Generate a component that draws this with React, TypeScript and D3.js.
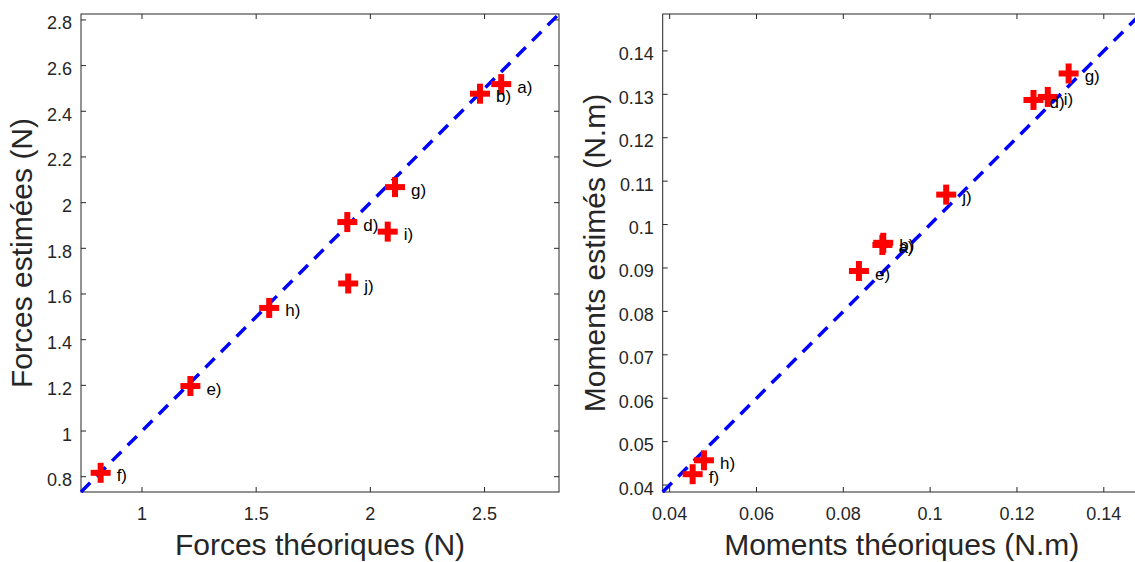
import React from "react";
import * as d3 from "d3";

const pointLabels = ["a)", "b)", "d)", "e)", "f)", "g)", "h)", "i)", "j)"];
const forceTheo = [2.573, 2.48, 1.899, 1.212, 0.819, 2.108, 1.557, 2.076, 1.903];
const forceEst = [2.519, 2.477, 1.915, 1.197, 0.817, 2.068, 1.539, 1.873, 1.646];
const momentTheo = [0.089, 0.0892, 0.1238, 0.0836, 0.0453, 0.1319, 0.0479, 0.1271, 0.1037];
const momentEst = [0.0953, 0.0958, 0.1287, 0.0893, 0.0425, 0.1348, 0.0457, 0.1294, 0.1069];

const forceDomain = [0.733, 2.826];
const momentDomain = [0.0384, 0.1485];

const forceXTicks = [1, 1.5, 2, 2.5];
const forceXTickLabels = ["1", "1.5", "2", "2.5"];
const forceYTicks = [0.8, 1, 1.2, 1.4, 1.6, 1.8, 2, 2.2, 2.4, 2.6, 2.8];
const forceYTickLabels = ["0.8", "1", "1.2", "1.4", "1.6", "1.8", "2", "2.2", "2.4", "2.6", "2.8"];
const momentXTicks = [0.04, 0.06, 0.08, 0.1, 0.12, 0.14];
const momentXTickLabels = ["0.04", "0.06", "0.08", "0.1", "0.12", "0.14"];
const momentYTicks = [0.04, 0.05, 0.06, 0.07, 0.08, 0.09, 0.1, 0.11, 0.12, 0.13, 0.14];
const momentYTickLabels = ["0.04", "0.05", "0.06", "0.07", "0.08", "0.09", "0.1", "0.11", "0.12", "0.13", "0.14"];

const AX = "#262626";
const FONT = "'Liberation Sans', Arial, Helvetica, sans-serif";

type PanelProps = {
  left: number;
  top: number;
  size: number;
  domain: number[];
  xs: number[];
  ys: number[];
  xTicks: number[];
  xTickLabels: string[];
  yTicks: number[];
  yTickLabels: string[];
  xLabel: string;
  yLabel: string;
  yLabelX: number;
};

function Panel(p: PanelProps) {
  const x = d3.scaleLinear().domain(p.domain).range([p.left, p.left + p.size]);
  const y = d3.scaleLinear().domain(p.domain).range([p.top + p.size, p.top]);
  const bottom = p.top + p.size;
  const right = p.left + p.size;
  const tl = 5;
  const line = d3.line<number>().x((d) => x(d)).y((d) => y(d));
  const arm = 10;
  return (
    <g>
      <rect x={p.left} y={p.top} width={p.size} height={p.size} fill="white" stroke={AX} strokeWidth={1} />
      {p.xTicks.map((t, i) => (
        <g key={"xt" + i}>
          <line x1={x(t)} x2={x(t)} y1={bottom} y2={bottom - tl} stroke={AX} />
          <line x1={x(t)} x2={x(t)} y1={p.top} y2={p.top + tl} stroke={AX} />
          <text x={x(t)} y={bottom + 28} textAnchor="middle" fontSize={18} fill={AX} fontFamily={FONT}>
            {p.xTickLabels[i]}
          </text>
        </g>
      ))}
      {p.yTicks.map((t, i) => (
        <g key={"yt" + i}>
          <line x1={p.left} x2={p.left + tl} y1={y(t)} y2={y(t)} stroke={AX} />
          <line x1={right} x2={right - tl} y1={y(t)} y2={y(t)} stroke={AX} />
          <text x={p.left - 9} y={y(t) + 9.5} textAnchor="end" fontSize={18} fill={AX} fontFamily={FONT}>
            {p.yTickLabels[i]}
          </text>
        </g>
      ))}
      <path
        d={line(p.domain) || ""}
        stroke="#0000FF"
        strokeWidth={3.5}
        strokeDasharray="13,9"
        fill="none"
      />
      {p.xs.map((v, i) => (
        <g key={"m" + i}>
          <line x1={x(v) - arm} x2={x(v) + arm} y1={y(p.ys[i])} y2={y(p.ys[i])} stroke="#FF0000" strokeWidth={6} />
          <line x1={x(v)} x2={x(v)} y1={y(p.ys[i]) - arm} y2={y(p.ys[i]) + arm} stroke="#FF0000" strokeWidth={6} />
        </g>
      ))}
      {p.xs.map((v, i) => (
        <text key={"l" + i} x={x(v) + 16} y={y(p.ys[i]) + 8.5} fontSize={17} fill="#000" fontFamily={FONT}>
          {pointLabels[i]}
        </text>
      ))}
      <text x={p.left + p.size / 2} y={555} textAnchor="middle" fontSize={30} fill={AX} fontFamily={FONT}>
        {p.xLabel}
      </text>
      <text
        transform={`translate(${p.yLabelX},${p.top + p.size / 2}) rotate(-90)`}
        textAnchor="middle"
        fontSize={30}
        fill={AX}
        fontFamily={FONT}
      >
        {p.yLabel}
      </text>
    </g>
  );
}

export default function App() {
  return (
    <svg
      width={1135}
      height={562}
      style={{ position: "absolute", left: 0, top: 0, background: "white" }}
    >
      <rect x={0} y={0} width={1135} height={562} fill="white" />
      <Panel
        left={81}
        top={14}
        size={478}
        domain={forceDomain}
        xs={forceTheo}
        ys={forceEst}
        xTicks={forceXTicks}
        xTickLabels={forceXTickLabels}
        yTicks={forceYTicks}
        yTickLabels={forceYTickLabels}
        xLabel="Forces théoriques (N)"
        yLabel="Forces estimées (N)"
        yLabelX={32}
      />
      <Panel
        left={662.7}
        top={14}
        size={478}
        domain={momentDomain}
        xs={momentTheo}
        ys={momentEst}
        xTicks={momentXTicks}
        xTickLabels={momentXTickLabels}
        yTicks={momentYTicks}
        yTickLabels={momentYTickLabels}
        xLabel="Moments théoriques (N.m)"
        yLabel="Moments estimés (N.m)"
        yLabelX={605}
      />
    </svg>
  );
}
